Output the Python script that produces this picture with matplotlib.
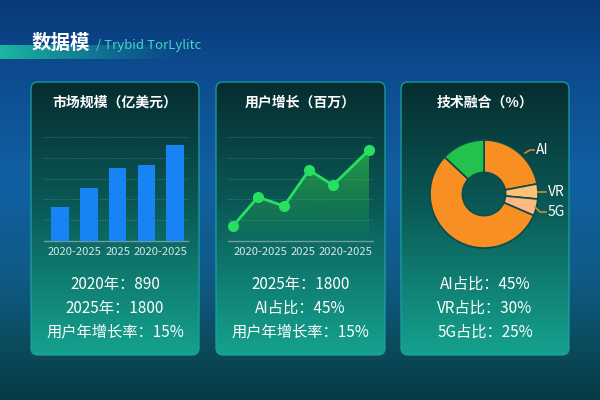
import numpy as np
import matplotlib
matplotlib.use('Agg')
import matplotlib.pyplot as plt
from matplotlib.patches import FancyBboxPatch
from matplotlib.colors import LinearSegmentedColormap, to_rgb

plt.rcParams['font.family'] = ['Noto Sans CJK SC', 'DejaVu Sans']

# ---------------- data ----------------
title_main = "数据模"
title_sub = "/ Trybid TorLylitc"

bar_title = "市场规模（亿美元）"
bar_values = [1.63, 2.55, 3.51, 3.65, 4.62]
bar_tick_pos = [0.5, 2, 3.5]
bar_tick_labels = ["2020-2025", "2025", "2020-2025"]
bar_stats = ["2020年：890", "2025年：1800", "用户年增长率：15%"]

line_title = "用户增长（百万）"
line_x = [0, 1, 2.04, 3.04, 4, 5.44]
line_values = [0.72, 2.12, 1.68, 3.41, 2.69, 4.38]
line_tick_pos = [1.08, 2.8, 4.48]
line_tick_labels = ["2020-2025", "2025", "2020-2025"]
line_stats = ["2025年：1800", "AI占比：45%", "用户年增长率：15%"]

pie_title = "技术融合（%）"
pie_names = ["AI", "VR", "5G", "", ""]
pie_values = [22, 4.5, 5, 55.5, 13]
pie_colors = ["#f78f22", "#ffc274", "#fdb885", "#f78f22", "#22c24c"]
pie_stats = ["AI占比：45%", "VR占比：30%", "5G占比：25%"]

W, H = 600, 400
fig = plt.figure(figsize=(6, 4), dpi=100)


def fa(x0, y0, x1, y1):
    return [x0 / W, 1 - y1 / H, (x1 - x0) / W, (y1 - y0) / H]


def vgrad(stops, n=300):
    cmap = LinearSegmentedColormap.from_list('g', stops)
    return cmap(np.linspace(0, 1, n))[:, None, :]


# ---------------- background ----------------
bg = fig.add_axes([0, 0, 1, 1])
bg.axis('off')
bg.imshow(vgrad([(0, '#0a3877'), (0.15, '#0c4a8c'), (0.45, '#1160a2'),
                 (0.7, '#0f5a86'), (0.87, '#0b4b5c'), (1.0, '#083a46')]),
          extent=[0, W, H, 0], aspect='auto', zorder=0)

# title band
band = np.zeros((1, 200, 4))
band[..., :3] = to_rgb('#1ab7a2')
band[0, :, 3] = np.clip(np.linspace(1.0, -0.1, 200), 0, 1) ** 1.2
bg.imshow(band, extent=[0, 200, 59, 45], aspect='auto', zorder=1)
bg.text(32, 43, title_main, fontsize=14, weight='bold', color='white',
        va='center', ha='left', zorder=5)
bg.text(96, 46, title_sub, fontsize=9.5, color='#48d4c6',
        va='center', ha='left', zorder=5)

card_x = [(31, 199), (216, 385), (401, 569)]
card_top, card_bot = 82, 355
card_grad = vgrad([(0, '#062d30'), (0.45, '#0a5956'), (1.0, '#15a28e')])
titles = [bar_title, line_title, pie_title]
stats = [bar_stats, line_stats, pie_stats]
for (x0, x1), t, st in zip(card_x, titles, stats):
    patch = FancyBboxPatch((x0, card_top), x1 - x0, card_bot - card_top,
                           boxstyle="round,pad=0,rounding_size=7",
                           facecolor='none', edgecolor='#1f9fa0', lw=0.9,
                           zorder=3)
    bg.add_patch(patch)
    im = bg.imshow(card_grad, extent=[x0, x1, card_bot, card_top],
                   aspect='auto', zorder=2)
    im.set_clip_path(patch)
    cx = (x0 + x1) / 2
    bg.text(cx, 103, t, ha='center', va='center', fontsize=10,
            weight='bold', color='white', zorder=5)
    for i, s in enumerate(st):
        bg.text(cx, 284 + 24 * i, s, ha='center', va='center',
                fontsize=11, color='white', zorder=5)

bg.set_xlim(0, W)
bg.set_ylim(H, 0)


def style_axis(ax):
    ax.set_facecolor('none')
    for s in ['top', 'right', 'left']:
        ax.spines[s].set_visible(False)
    ax.spines['bottom'].set_color('#6e9c9c')
    ax.spines['bottom'].set_linewidth(1)
    ax.set_yticks([1, 2, 3, 4, 5])
    ax.tick_params(axis='y', length=0, labelleft=False)
    ax.tick_params(axis='x', length=0, pad=4, labelsize=8.1,
                   labelcolor='#d8e6e6')
    ax.grid(axis='y', linestyle=(0, (1.5, 1.5)), color='#9fc0c0',
            alpha=0.35, lw=0.6)
    ax.set_axisbelow(True)
    ax.set_ylim(0, 5.2)


# ---------------- bar chart ----------------
ax1 = fig.add_axes(fa(44, 133, 188, 241))
style_axis(ax1)
ax1.bar(range(len(bar_values)), bar_values, width=0.61, color='#1883f4',
        zorder=3)
ax1.set_xlim(-0.56, 4.45)
ax1.set_xticks(bar_tick_pos)
ax1.set_xticklabels(bar_tick_labels)

# ---------------- line chart ----------------
ax2 = fig.add_axes(fa(228, 133, 373, 241))
style_axis(ax2)
ax2.set_xlim(-0.2, 5.6)
poly = ax2.fill_between(line_x, line_values, 0, facecolor='none',
                        edgecolor='none')
fill = np.zeros((200, 1, 4))
fill[..., :3] = to_rgb('#30bd48')
fill[:, 0, 3] = np.linspace(0.72, 0.03, 200)
fim = ax2.imshow(fill, extent=[line_x[0], line_x[-1], 0, max(line_values)],
                 aspect='auto', zorder=2)
fim.set_clip_path(poly.get_paths()[0], transform=ax2.transData)
ax2.plot(line_x, line_values, color='#27e061', lw=2, marker='o', ms=7,
         zorder=4, clip_on=False)
ax2.set_xlim(-0.2, 5.6)
ax2.set_ylim(0, 5.2)
ax2.set_xticks(line_tick_pos)
ax2.set_xticklabels(line_tick_labels)

# ---------------- donut ----------------
R = 54.0
ax3 = fig.add_axes(fa(414, 124, 554, 264))
ax3.set_facecolor('none')
ax3.pie(pie_values, colors=pie_colors, startangle=90, counterclock=False,
        radius=1, wedgeprops=dict(width=0.6, edgecolor='#0b4b4a',
                                  linewidth=1.2))
ax3.set_xlim(-70 / R, 70 / R)
ax3.set_ylim(-70 / R, 70 / R)
ax3.axis('off')


def d(px, py):
    return ((px - 484) / R, (194 - py) / R)


leaders = [
    ("AI", [d(525, 153), d(530, 150), d(534, 150)], d(536, 150)),
    ("VR", [d(538, 192), d(546, 192)], d(548, 192)),
    ("5G", [d(535, 207), d(540, 212), d(546, 212)], d(548, 212)),
]
for name, pts, tp in leaders:
    xs, ys = zip(*pts)
    ax3.plot(xs, ys, color='#c99027', lw=1.2, clip_on=False)
    ax3.text(tp[0], tp[1], name, ha='left', va='center', fontsize=10,
             color='white')

fig.savefig('out.png', dpi=100)
